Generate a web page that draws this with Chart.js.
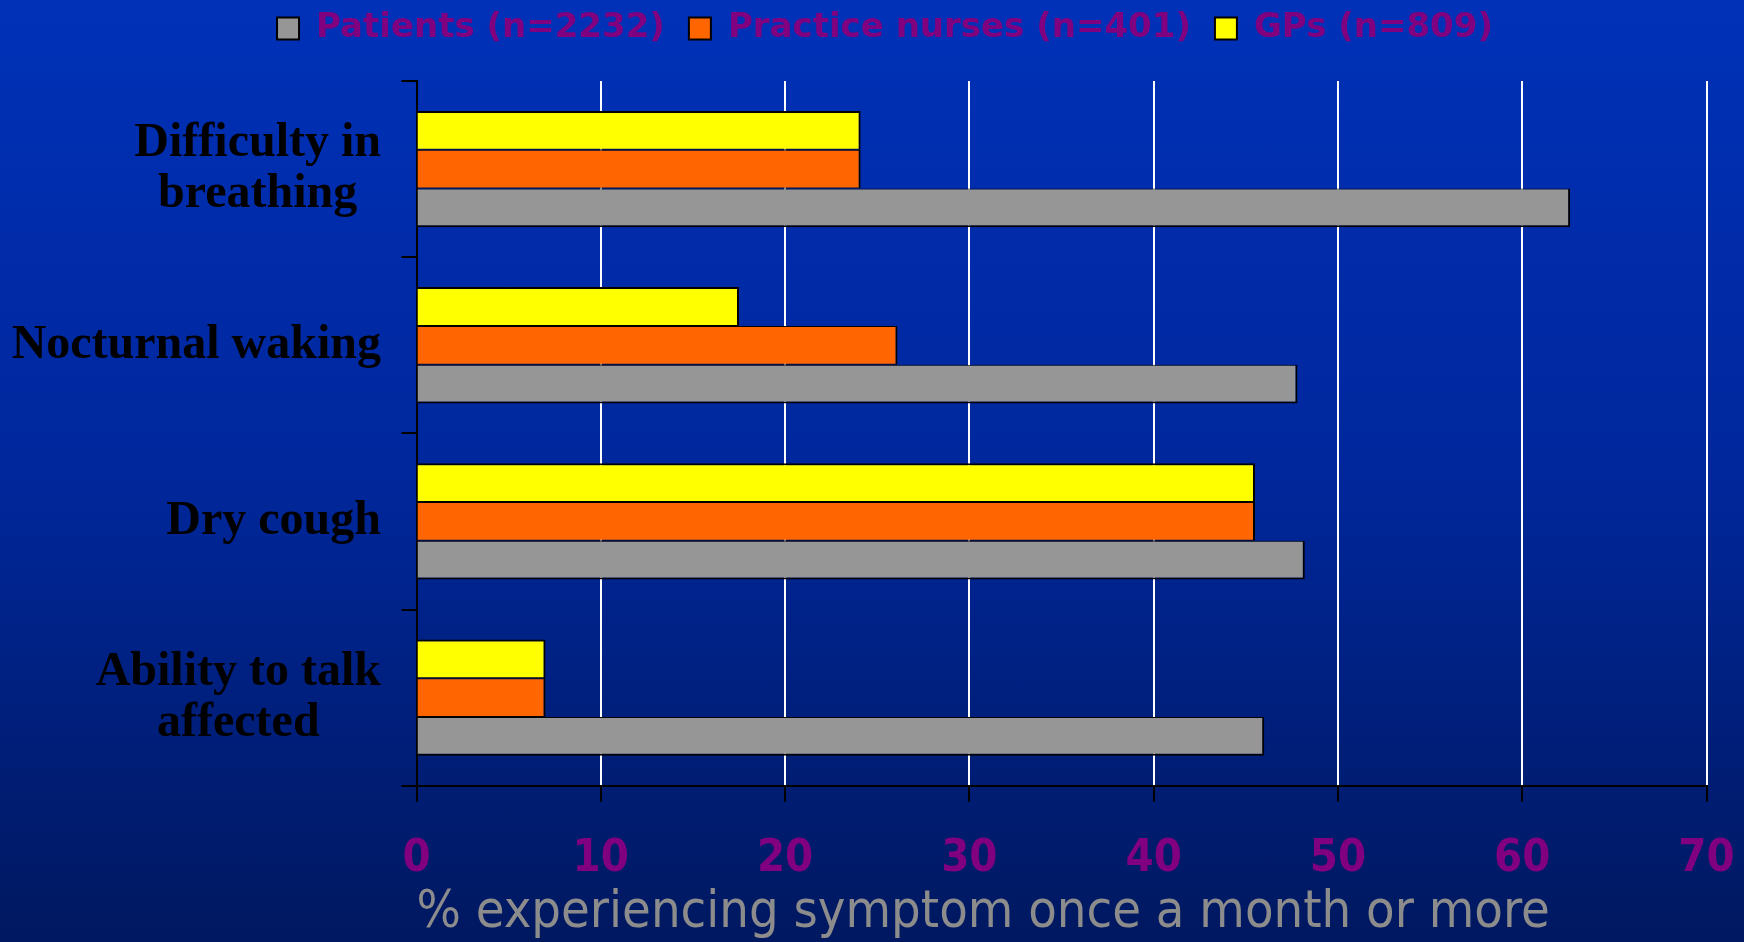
<!DOCTYPE html>
<html>
<head>
<meta charset="utf-8">
<title>Symptom frequency</title>
<script src="https://cdn.jsdelivr.net/npm/chart.js@4"></script>
<style>
  html, body {
    margin: 0;
    padding: 0;
  }
  body {
    width: 1744px;
    height: 942px;
    overflow: hidden;
    background: linear-gradient(to bottom, #0031b8 0%, #00279c 50%, #00185f 100%);
  }
  #wrap {
    position: relative;
    width: 1744px;
    height: 942px;
  }
</style>
</head>
<body>
<div id="wrap"><canvas id="symptomChart"></canvas></div>
<script>
// categories (one array entry per label line)
const categories = [
    ['Difficulty in', 'breathing'],
    ['Nocturnal waking'],
    ['Dry cough'],
    ['Ability to talk', 'affected']
];

const seriesNames = ['Patients (n=2232)', 'Practice nurses (n=401)', 'GPs (n=809)'];

// % experiencing each symptom once a month or more
const patients = [62.6, 47.8, 48.2, 46.0];
const nurses = [24.1, 26.1, 45.5, 7.0];
const gps = [24.1, 17.5, 45.5, 7.0];

const xMin = 0;
const xMax = 70;
const xStep = 10;

const axisTitle = '% experiencing symptom once a month or more';

const purple = '#800080';
const condensed = "'DejaVu Sans Condensed', 'DejaVu Sans', sans-serif";

// push the plot down a little below the legend
const legendGap = {
    id: 'legendGap',
    beforeInit(chart) {
        const fit = chart.legend.fit;
        chart.legend.fit = function () {
            fit.bind(chart.legend)();
            this.height += 25.5;
        };
    }
};

// category names: block right aligned against the axis, lines centred in the block
const categoryLabels = {
    id: 'categoryLabels',
    afterDraw(chart) {
        const { ctx } = chart;
        const y = chart.scales.y;
        const right = y.right - 35.5;
        ctx.save();
        ctx.font = "bold 48px 'Liberation Serif', 'Times New Roman', serif";
        ctx.fillStyle = '#000000';
        ctx.textAlign = 'center';
        ctx.textBaseline = 'middle';
        categories.forEach((lines, i) => {
            const widest = Math.max(...lines.map(l => ctx.measureText(l).width));
            const cx = right - widest / 2;
            const cy = y.getPixelForValue(i);
            lines.forEach((line, j) => {
                ctx.fillText(line, cx, cy + (j - (lines.length - 1) / 2) * 51);
            });
        });
        ctx.restore();
    }
};

const ctx = document.getElementById('symptomChart').getContext('2d');
new Chart(ctx, {
    type: 'bar',
    data: {
        labels: categories.map(c => c.join(' ')),
        datasets: [{
            label: seriesNames[2],
            data: gps,
            backgroundColor: '#ffff00',
            borderColor: '#000000',
            borderWidth: { top: 2, right: 2, bottom: 1, left: 0 }
        }, {
            label: seriesNames[1],
            data: nurses,
            backgroundColor: '#ff6600',
            borderColor: '#000000',
            borderWidth: { top: 1, right: 2, bottom: 1, left: 0 }
        }, {
            label: seriesNames[0],
            data: patients,
            backgroundColor: '#969696',
            borderColor: '#000000',
            borderWidth: { top: 1, right: 2, bottom: 2, left: 0 }
        }]
    },
    options: {
        indexAxis: 'y',
        responsive: true,
        maintainAspectRatio: false,
        animation: false,
        categoryPercentage: 0.66,
        barPercentage: 1.0,
        layout: {
            padding: { top: -12.5, right: 0, bottom: 0, left: 26 }
        },
        plugins: {
            tooltip: { enabled: false },
            legend: {
                position: 'top',
                reverse: true,
                labels: {
                    color: purple,
                    boxWidth: 22,
                    boxHeight: 22,
                    padding: 24,
                    font: { family: "'DejaVu Sans', Verdana, sans-serif", size: 34, weight: 'bold' },
                    generateLabels(chart) {
                        const items = Chart.defaults.plugins.legend.labels.generateLabels(chart);
                        items.forEach(it => { it.lineWidth = 2; it.strokeStyle = '#000000'; });
                        return items;
                    }
                }
            }
        },
        scales: {
            x: {
                min: xMin,
                max: xMax,
                afterFit(scale) {
                    scale.height = 156.3;
                    scale.paddingLeft = 0;
                    scale.paddingRight = 37.5;
                },
                ticks: {
                    stepSize: xStep,
                    color: purple,
                    padding: 31,
                    font: { family: condensed, size: 45, weight: 'bold' }
                },
                grid: {
                    color: c => (c.tick && c.tick.value === 0 ? 'rgba(0,0,0,0)' : '#ffffff'),
                    lineWidth: 2,
                    tickColor: '#000000',
                    tickLength: 16
                },
                border: { color: '#000000', width: 2 },
                title: {
                    display: true,
                    text: axisTitle,
                    align: 'start',
                    color: '#8c8c8c',
                    padding: { top: 0, bottom: 0 },
                    font: { family: condensed, size: 52, lineHeight: 1.1 }
                }
            },
            y: {
                afterFit(scale) { scale.width = 390.5; },
                ticks: { display: false },
                grid: {
                    drawOnChartArea: false,
                    tickColor: '#000000',
                    tickLength: 15,
                    lineWidth: 2
                },
                border: { color: '#000000', width: 2 }
            }
        }
    },
    plugins: [legendGap, categoryLabels]
});
</script>
</body>
</html>
